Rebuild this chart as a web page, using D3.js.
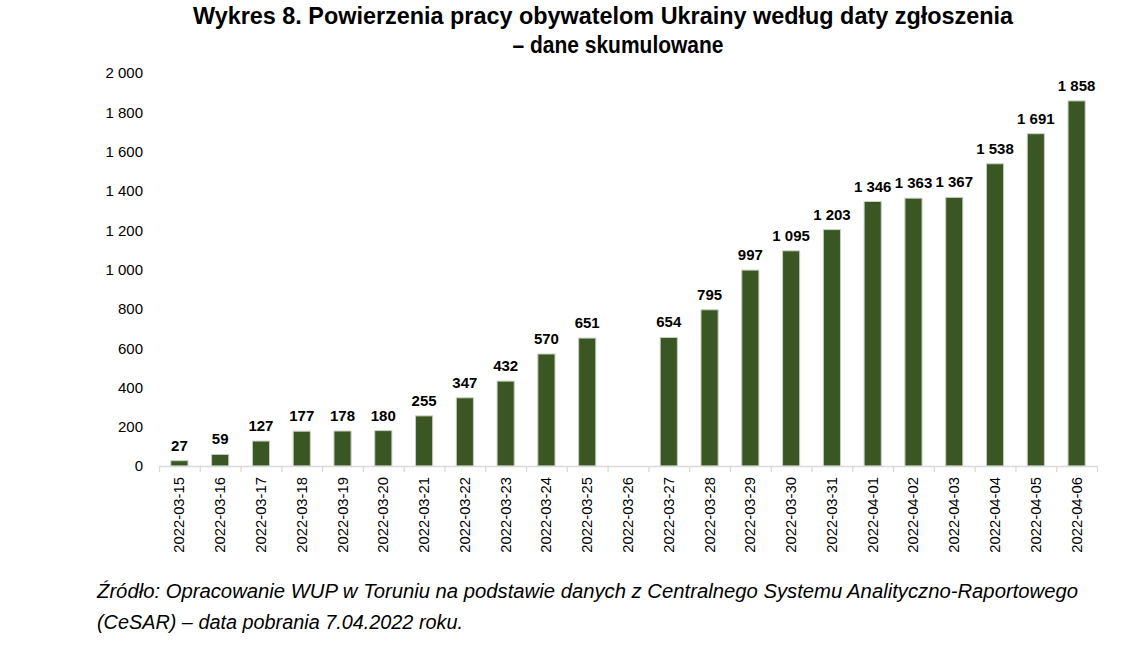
<!DOCTYPE html>
<html><head><meta charset="utf-8">
<script src="https://cdn.jsdelivr.net/npm/d3@7"></script>
<style>body{margin:0;background:#fff}svg{display:block}</style>
</head><body>
<script>
const categories = ["2022-03-15","2022-03-16","2022-03-17","2022-03-18","2022-03-19","2022-03-20","2022-03-21","2022-03-22","2022-03-23","2022-03-24","2022-03-25","2022-03-26","2022-03-27","2022-03-28","2022-03-29","2022-03-30","2022-03-31","2022-04-01","2022-04-02","2022-04-03","2022-04-04","2022-04-05","2022-04-06"];
const values = [27,59,127,177,178,180,255,347,432,570,651,null,654,795,997,1095,1203,1346,1363,1367,1538,1691,1858];
const yTicks = [0,200,400,600,800,1000,1200,1400,1600,1800,2000];
const titleLines = ["Wykres 8. Powierzenia pracy obywatelom Ukrainy według daty zgłoszenia","– dane skumulowane"];
const sourceLines = ["Źródło: Opracowanie WUP w Toruniu na podstawie danych z Centralnego Systemu Analityczno-Raportowego","(CeSAR) – data pobrania 7.04.2022 roku."];

const W=1140,H=661;
const svg=d3.select("body").append("svg").attr("width",W).attr("height",H);
const fmt=v=>d3.format(",")(v).replace(/,/g," ");
const x=d3.scaleBand().domain(categories).range([159,1097]).paddingInner(0.58).paddingOuter(0.29);
const y=d3.scaleLinear().domain([0,2000]).range([466,73]);

// title
svg.append("text").attr("x",603).attr("y",24).attr("text-anchor","middle")
  .attr("font-family","Liberation Sans, Arial, sans-serif").attr("font-weight","bold").attr("font-size",23)
  .attr("textLength",820).attr("lengthAdjust","spacingAndGlyphs").attr("fill","#000").text(titleLines[0]);
svg.append("text").attr("x",618).attr("y",53).attr("text-anchor","middle")
  .attr("font-family","Liberation Sans, Arial, sans-serif").attr("font-weight","bold").attr("font-size",23)
  .attr("textLength",211).attr("lengthAdjust","spacingAndGlyphs").attr("fill","#000").text(titleLines[1]);

// y axis labels
svg.append("g").selectAll("text").data(yTicks).join("text")
  .attr("x",143).attr("y",d=>y(d)).attr("dy","0.36em").attr("text-anchor","end")
  .attr("font-family","Liberation Sans, Arial, sans-serif").attr("font-size",15).attr("fill","#000")
  .text(fmt);

// bars
svg.append("g").selectAll("rect").data(categories.map((c,i)=>({c,v:values[i]})).filter(d=>d.v!=null)).join("rect")
  .attr("x",d=>x(d.c)).attr("width",x.bandwidth()).attr("y",d=>y(d.v)).attr("height",d=>y(0)-y(d.v))
  .attr("fill","#3a5723").attr("stroke","#c9cfc2").attr("stroke-width",1);

// data labels
svg.append("g").selectAll("text").data(categories.map((c,i)=>({c,v:values[i]})).filter(d=>d.v!=null)).join("text")
  .attr("x",d=>x(d.c)+x.bandwidth()/2).attr("y",d=>y(d.v)-10).attr("text-anchor","middle")
  .attr("font-family","Liberation Sans, Arial, sans-serif").attr("font-weight","bold").attr("font-size",15).attr("fill","#000")
  .text(d=>fmt(d.v));

// x axis
const step=x.step();
const axisG=svg.append("g");
axisG.append("line").attr("x1",159).attr("x2",1097).attr("y1",466.5).attr("y2",466.5).attr("stroke","#d9d9d9").attr("stroke-width",1.3);
axisG.selectAll("line.t").data(d3.range(categories.length+1)).join("line").attr("class","t")
  .attr("x1",i=>159+i*step+0.5).attr("x2",i=>159+i*step+0.5).attr("y1",466).attr("y2",472).attr("stroke","#d9d9d9").attr("stroke-width",1.3);
axisG.selectAll("text").data(categories).join("text")
  .attr("transform",d=>`translate(${x(d)+x.bandwidth()/2+5},477) rotate(-90)`).attr("text-anchor","end")
  .attr("font-family","Liberation Sans, Arial, sans-serif").attr("font-size",14.8).attr("fill","#000")
  .text(d=>d);

// source
svg.append("text").attr("x",97).attr("y",598)
  .attr("font-family","Liberation Sans, Arial, sans-serif").attr("font-style","italic").attr("font-size",19.5)
  .attr("textLength",981).attr("lengthAdjust","spacingAndGlyphs").attr("fill","#000").text(sourceLines[0]);
svg.append("text").attr("x",97).attr("y",629)
  .attr("font-family","Liberation Sans, Arial, sans-serif").attr("font-style","italic").attr("font-size",19.5)
  .attr("textLength",366).attr("lengthAdjust","spacingAndGlyphs").attr("fill","#000").text(sourceLines[1]);
</script>
</body></html>
